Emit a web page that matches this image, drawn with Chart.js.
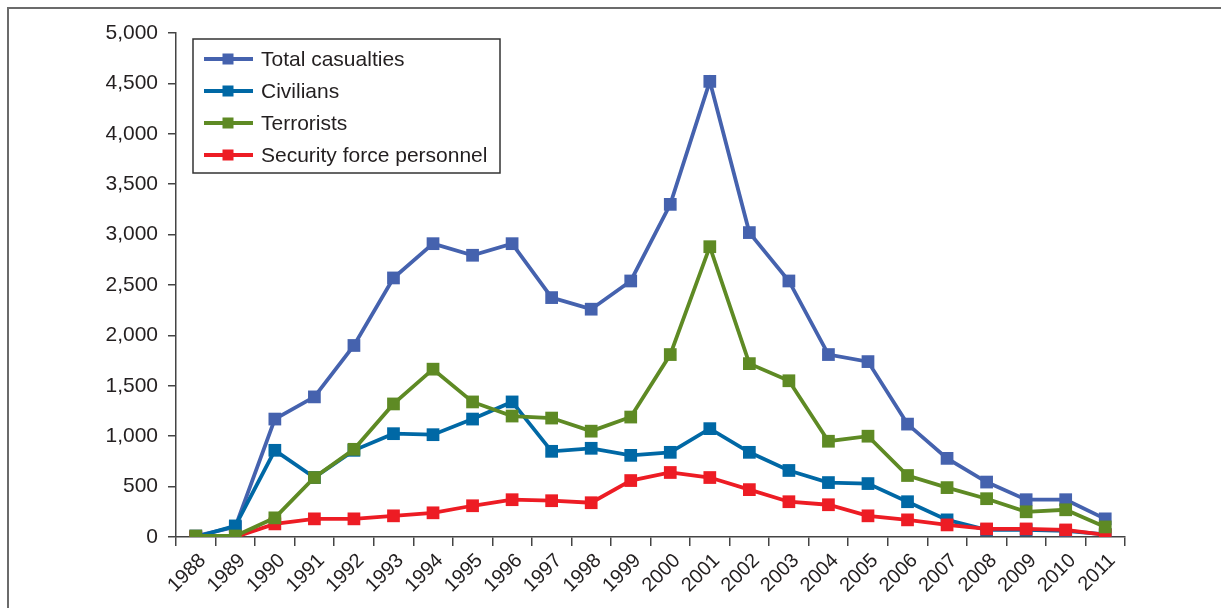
<!DOCTYPE html>
<html>
<head>
<meta charset="utf-8">
<script src="https://cdn.jsdelivr.net/npm/chart.js@4/dist/chart.umd.min.js"></script>
<style>
  html, body { margin: 0; padding: 0; background: #fff; }
  #wrap { position: relative; width: 1221px; height: 608px; overflow: hidden; }
  #frame { position: absolute; left: 7px; top: 7px; width: 1300px; height: 700px;
           border-left: 2px solid #6b6b6b; border-top: 2px solid #6b6b6b; box-sizing: border-box; }
  canvas { position: absolute; left: 0; top: 0; }
</style>
</head>
<body>
<div id="wrap">
  <div id="frame"></div>
  <canvas id="c" width="1221" height="608"></canvas>
</div>
<script>
const years = ['1988','1989','1990','1991','1992','1993','1994','1995','1996','1997','1998','1999',
               '2000','2001','2002','2003','2004','2005','2006','2007','2008','2009','2010','2011'];
const totalCasualties = [10, 100, 1170, 1390, 1900, 2570, 2910, 2795, 2910, 2375, 2260, 2540,
                         3300, 4520, 3020, 2540, 1810, 1740, 1120, 780, 545, 370, 370, 180];
const civilians = [0, 110, 860, 590, 860, 1025, 1015, 1170, 1340, 850, 880, 810,
                   840, 1075, 840, 660, 540, 530, 350, 170, 70, 70, 60, 25];
const terrorists = [10, 10, 190, 590, 870, 1320, 1665, 1340, 1200, 1180, 1050, 1190,
                    1810, 2880, 1720, 1550, 950, 1000, 610, 490, 380, 250, 270, 100];
const securityForces = [0, 0, 130, 180, 180, 210, 240, 310, 370, 360, 340, 560,
                        640, 590, 470, 350, 320, 210, 170, 120, 80, 80, 70, 20];
const seriesLabels = ['Total casualties', 'Civilians', 'Terrorists', 'Security force personnel'];
const yTicks = [0, 500, 1000, 1500, 2000, 2500, 3000, 3500, 4000, 4500, 5000];

const colors = ['#4562AE', '#0068A5', '#5E8A24', '#ED1C24'];
const drawOrder = [4, 3, 1, 2];
const FONT = '"Liberation Sans", Arial, Helvetica, sans-serif';

function ds(i, data) {
  const color = colors[i];
  return {
    label: seriesLabels[i], data,
    order: drawOrder[i],
    borderColor: color, backgroundColor: color,
    borderWidth: 3.8,
    pointStyle: 'rect', pointRadius: 9, pointHoverRadius: 9,
    pointBorderWidth: 0, pointBackgroundColor: color,
    tension: 0, fill: false
  };
}

const legendBox = {
  id: 'legendBox',
  afterDraw(chart) {
    const ctx = chart.ctx;
    const a = chart.chartArea;
    const x0 = a.left + 17, y0 = a.top + 6, w = 307, h = 134;
    ctx.save();
    ctx.fillStyle = '#fff';
    ctx.fillRect(x0, y0, w, h);
    ctx.strokeStyle = '#333';
    ctx.lineWidth = 1.5;
    ctx.strokeRect(x0, y0, w, h);
    ctx.font = '21px ' + FONT;
    ctx.textBaseline = 'middle';
    chart.data.datasets.forEach((d, i) => {
      const cy = y0 + 20 + i * 32;
      ctx.strokeStyle = d.borderColor;
      ctx.lineWidth = 4;
      ctx.beginPath();
      ctx.moveTo(x0 + 11, cy);
      ctx.lineTo(x0 + 60, cy);
      ctx.stroke();
      ctx.fillStyle = d.borderColor;
      ctx.fillRect(x0 + 35 - 5.5, cy - 5.5, 11, 11);
      ctx.fillStyle = '#231f20';
      ctx.fillText(d.label, x0 + 68, cy + 1);
    });
    ctx.restore();
  }
};

new Chart(document.getElementById('c'), {
  type: 'line',
  data: {
    labels: years,
    datasets: [
      ds(0, totalCasualties),
      ds(1, civilians),
      ds(2, terrorists),
      ds(3, securityForces)
    ]
  },
  options: {
    responsive: false,
    animation: false,
    events: [],
    layout: { padding: { left: 0, top: 33, right: 96, bottom: 0 } },
    plugins: {
      legend: { display: false },
      tooltip: { enabled: false }
    },
    scales: {
      x: {
        offset: true,
        grid: { offset: true, drawOnChartArea: false, drawTicks: true, tickLength: 9, color: '#444', lineWidth: 1.5 },
        border: { display: true, color: '#444', width: 1.5 },
        ticks: {
          autoSkip: false, maxRotation: 45, minRotation: 45,
          color: '#231f20', font: { family: FONT, size: 20 }, padding: 3, labelOffset: 7
        },
        afterFit(scale) { scale.height = 71; }
      },
      y: {
        min: 0, max: 5000,
        afterBuildTicks(scale) { scale.ticks = yTicks.map(v => ({ value: v })); },
        grid: { drawOnChartArea: false, drawTicks: true, tickLength: 8, color: '#444', lineWidth: 1.5 },
        border: { display: true, color: '#444', width: 1.5 },
        ticks: {
          color: '#231f20', font: { family: FONT, size: 21 }, padding: 10,
          callback: v => v.toLocaleString('en-US')
        },
        afterFit(scale) { scale.width = 176; }
      }
    }
  },
  plugins: [legendBox]
});
</script>
</body>
</html>
